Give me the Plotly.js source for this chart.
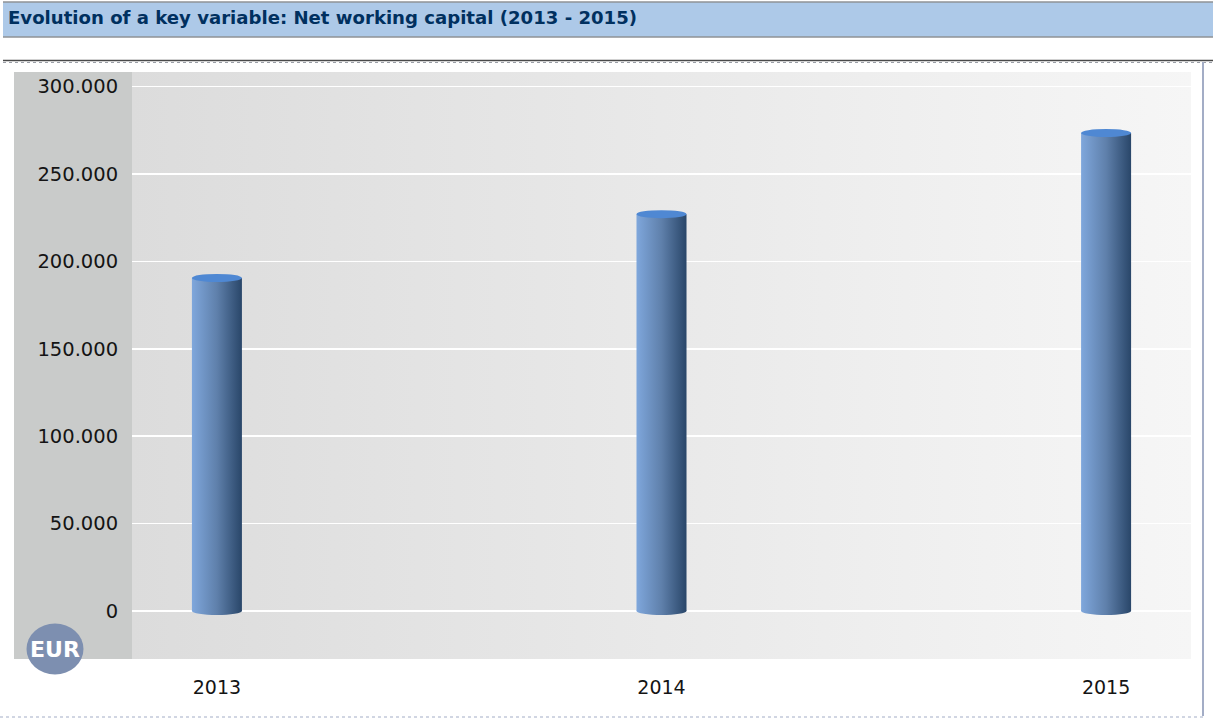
<!DOCTYPE html>
<html>
<head>
<meta charset="utf-8">
<script src="https://cdn.plot.ly/plotly-3.0.1.min.js"></script>
<style>html,body{margin:0;padding:0;background:#fff;overflow:hidden}</style>
</head>
<body>
<div id="chart" style="width:1213px;height:718px"></div>
<script>
// Net working capital by year, in EUR
const years = ['2013', '2014', '2015'];
const netWorkingCapital = [190500, 227000, 273400];
const yTicks = [0, 50000, 100000, 150000, 200000, 250000, 300000];
const chartTitle = 'Evolution of a key variable: Net working capital (2013 - 2015)';
const unitLabel = 'EUR';

const W = 1213, H = 718;
const M = {l: 132, r: 22, t: 72, b: 59};
const px = x => (x - M.l) / (W - M.l - M.r);
const py = y => 1 - (y - M.t) / (H - M.t - M.b);

// Page furniture in paper coordinates
const rect = (x0, y0, x1, y1, fill, layer) => ({
  type: 'rect', xref: 'paper', yref: 'paper', layer: layer || 'below',
  x0: px(x0), x1: px(x1), y0: py(y0), y1: py(y1), fillcolor: fill, line: {width: 0}
});
const rule = (x0, y0, x1, y1, color, width, dash) => ({
  type: 'line', xref: 'paper', yref: 'paper', layer: 'below',
  x0: px(x0), x1: px(x1), y0: py(y0), y1: py(y1), line: {color, width, dash: dash || 'solid'}
});
// Cylinder caps, sized in pixels and anchored on each bar's category index and value
const cap = (index, value, fill) => ({
  type: 'circle', layer: 'above',
  xref: 'x', yref: 'y', xsizemode: 'pixel', ysizemode: 'pixel',
  xanchor: index, yanchor: value, x0: -25, x1: 25, y0: -4, y1: 4,
  fillcolor: fill, line: {width: 0}
});

const shapes = [
  rect(3, 2, 1213, 37, '#adc9e8'),
  rule(3, 2, 1213, 2, '#8f9296', 1.5),
  rule(3, 37, 1213, 37, '#8f9296', 1.5),
  rule(3, 60.5, 1213, 60.5, '#4a4a4a', 1.5),
  rule(3, 62.5, 1213, 62.5, '#9a9ea6', 1, 'dot'),
  rule(1203, 62, 1203, 716, '#a3adc6', 2),
  rule(0, 717, 1205, 717, '#a3adc6', 1, 'dot'),
  rect(14, 72, 132, 659, '#c9cbca'),
];
years.forEach((y, i) => {
  shapes.push(cap(i, 0, '#5c7ea9'));
  shapes.push(cap(i, netWorkingCapital[i], '#4f88d3'));
});
shapes.push({
  type: 'circle', layer: 'above', xref: 'paper', yref: 'paper',
  xsizemode: 'pixel', ysizemode: 'pixel', xanchor: px(55), yanchor: py(649),
  x0: -28.5, x1: 28.5, y0: -25.5, y1: 25.5, fillcolor: '#7d8fb0', line: {width: 0}
});

const trace = {
  type: 'bar', x: years, y: netWorkingCapital, width: 0.1125,
  marker: {color: '#5c7ea9', line: {width: 0}}, hoverinfo: 'x+y'
};

const layout = {
  width: W, height: H, margin: M, showlegend: false,
  paper_bgcolor: '#ffffff', plot_bgcolor: '#e6e6e6',
  separators: ',.',
  font: {family: 'DejaVu Sans, sans-serif', size: 19, color: '#141414'},
  xaxis: {
    type: 'category', range: [-0.191, 2.191], showgrid: false, zeroline: false,
    showline: false, ticks: 'outside', ticklen: 11, tickcolor: 'rgba(0,0,0,0)',
    tickfont: {size: 19, color: '#141414'}
  },
  yaxis: {
    range: [-27450, 308300], tickvals: yTicks, tickformat: ',d',
    gridcolor: '#ffffff', gridwidth: 1.5, zeroline: true, zerolinecolor: '#ffffff',
    zerolinewidth: 1.5, showline: false, ticks: 'outside', ticklen: 9,
    tickcolor: 'rgba(0,0,0,0)', tickfont: {size: 19.5, color: '#141414'}
  },
  shapes,
  annotations: [
    {
      xref: 'paper', yref: 'paper', x: px(7), y: py(17.5), xanchor: 'left', yanchor: 'middle',
      text: '<b>' + chartTitle + '</b>', showarrow: false, borderpad: 0,
      font: {size: 18.1, color: '#00305f'}
    },
    {
      xref: 'paper', yref: 'paper', x: px(55), y: py(649), xanchor: 'center', yanchor: 'middle',
      text: '<b>' + unitLabel + '</b>', showarrow: false, borderpad: 0,
      font: {size: 22, color: '#ffffff'}
    }
  ]
};

Plotly.newPlot('chart', [trace], layout, {displayModeBar: false, staticPlot: true}).then(gd => {
  // Plotly has no gradient fills for bars or the plot area, so they are attached here
  const svg = gd.querySelector('svg.main-svg');
  const defs = svg.querySelector('defs');
  const NS = 'http://www.w3.org/2000/svg';
  const addGradient = (id, stops) => {
    const g = document.createElementNS(NS, 'linearGradient');
    g.setAttribute('id', id);
    stops.forEach(([o, c]) => {
      const s = document.createElementNS(NS, 'stop');
      s.setAttribute('offset', o);
      s.setAttribute('stop-color', c);
      g.appendChild(s);
    });
    defs.appendChild(g);
  };
  addGradient('cylinder', [[0, '#7fa7dc'], [0.5, '#5f80ab'], [1, '#294669']]);
  addGradient('plotBg', [[0, '#dcdcdc'], [1, '#f6f6f6']]);
  gd.querySelectorAll('.bars .point path').forEach(p => { p.style.fill = 'url(#cylinder)'; });
  gd.querySelectorAll('.bglayer .bg').forEach(r => { r.style.fill = 'url(#plotBg)'; });
  gd.querySelectorAll('.shapelayer path').forEach(p => {
    if (p.style.fill === 'rgb(92, 126, 169)') p.style.fill = 'url(#cylinder)';
  });
});
</script>
</body>
</html>
